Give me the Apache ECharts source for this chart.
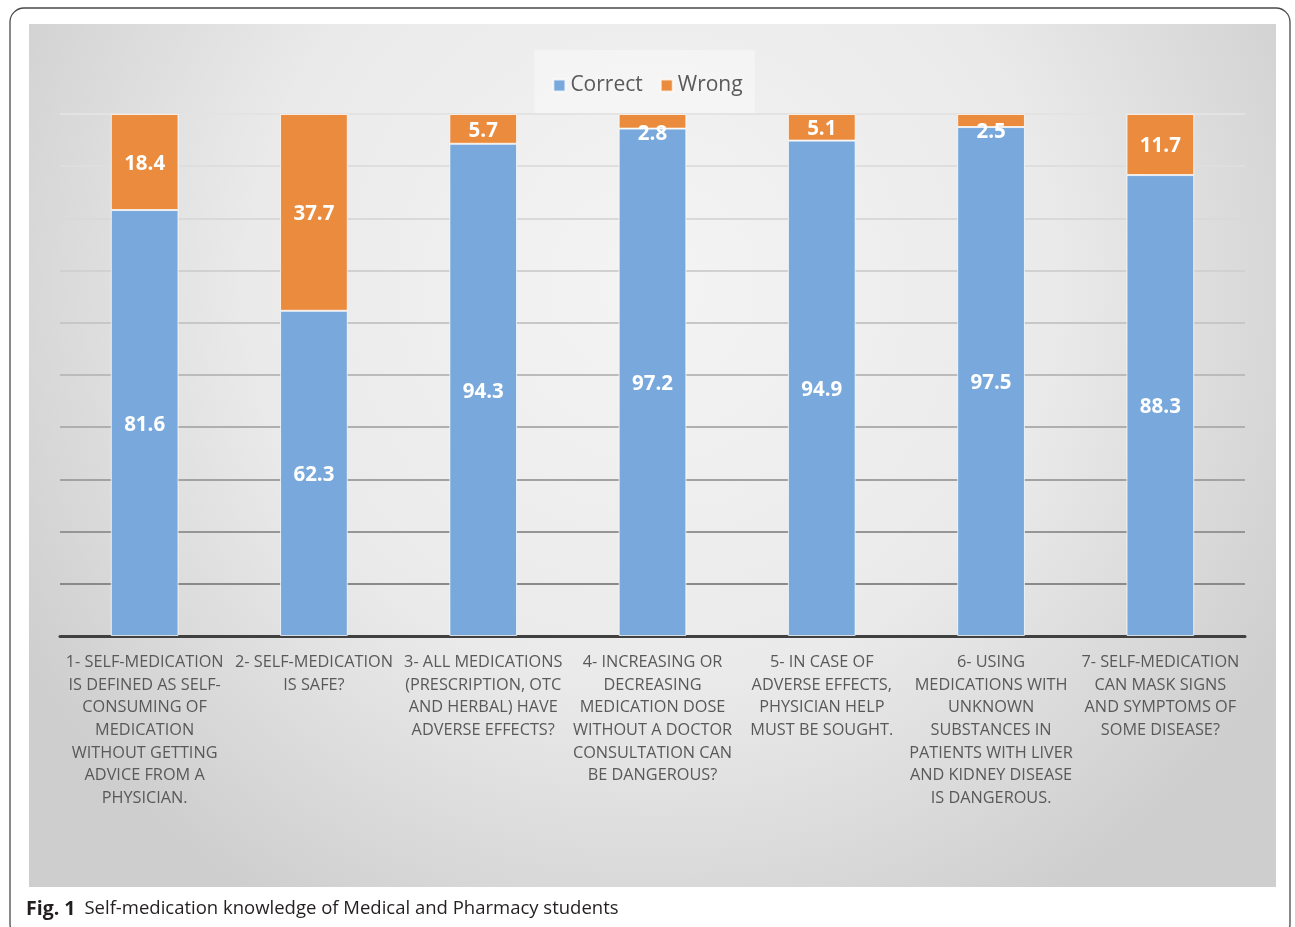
<!DOCTYPE html>
<html>
<head>
<meta charset="utf-8">
<style>
  html, body { margin: 0; padding: 0; background: #ffffff; }
  #chart { width: 1295px; height: 927px; }
</style>
<script src="https://cdn.jsdelivr.net/npm/echarts@6/dist/echarts.min.js"></script>
</head>
<body>
<div id="chart"></div>
<script>
const categories = [
  "1- SELF-MEDICATION\nIS DEFINED AS SELF-\nCONSUMING OF\nMEDICATION\nWITHOUT GETTING\nADVICE FROM A\nPHYSICIAN.",
  "2- SELF-MEDICATION\nIS SAFE?",
  "3- ALL MEDICATIONS\n(PRESCRIPTION, OTC\nAND HERBAL) HAVE\nADVERSE EFFECTS?",
  "4- INCREASING OR\nDECREASING\nMEDICATION DOSE\nWITHOUT A DOCTOR\nCONSULTATION CAN\nBE DANGEROUS?",
  "5- IN CASE OF\nADVERSE EFFECTS,\nPHYSICIAN HELP\nMUST BE SOUGHT.",
  "6- USING\nMEDICATIONS WITH\nUNKNOWN\nSUBSTANCES IN\nPATIENTS WITH LIVER\nAND KIDNEY DISEASE\nIS DANGEROUS.",
  "7- SELF-MEDICATION\nCAN MASK SIGNS\nAND SYMPTOMS OF\nSOME DISEASE?"
];
const correct = [81.6, 62.3, 94.3, 97.2, 94.9, 97.5, 88.3];
const wrong = [18.4, 37.7, 5.7, 2.8, 5.1, 2.5, 11.7];
const seriesNames = ["Correct", "Wrong"];
const captionBold = "Fig. 1";
const captionText = "Self-medication knowledge of Medical and Pharmacy students";

const chart = echarts.init(document.getElementById('chart'), null, { renderer: 'canvas' });

const labelStyle = {
  show: true,
  position: 'inside',
  offset: [0, 2],
  color: '#ffffff',
  fontFamily: 'Open Sans',
  fontWeight: 'bold',
  fontSize: 20.5
};

// very thin segments: label drawn just below the segment edge (as in the original)
const wrongData = wrong.map(v => v < 4
  ? { value: v, label: { position: 'bottom', distance: -5, offset: [0, 0] } }
  : v);

chart.setOption({
  backgroundColor: '#ffffff',
  animation: false,
  graphic: [
    {
      type: 'rect', z: -20, silent: true,
      shape: { x: 10, y: 8, width: 1280, height: 930, r: 14 },
      style: { fill: '#ffffff', stroke: '#4a4a4a', lineWidth: 1.3 }
    },
    {
      type: 'rect', z: -10, silent: true,
      shape: { x: 29, y: 24, width: 1247, height: 863 },
      style: {
        fill: {
          type: 'radial', x: 0.5, y: 0.3, r: 0.85,
          colorStops: [
            { offset: 0, color: '#f4f4f4' },
            { offset: 0.55, color: '#eaeaea' },
            { offset: 1, color: '#cecece' }
          ]
        }
      }
    },
    {
      type: 'text', z: 10, silent: true,
      left: 26, top: 899,
      style: {
        text: '{b|' + captionBold + '}{n|' + captionText + '}',
        rich: {
          b: { fontFamily: 'Open Sans', fontWeight: 'bold', fontSize: 19.5, fill: '#231f20', padding: [0, 9, 0, 0] },
          n: { fontFamily: 'Open Sans', fontSize: 18.5, fill: '#231f20' }
        }
      }
    }
  ],
  legend: {
    data: seriesNames,
    top: 50,
    left: 'center',
    padding: [25, 12, 17, 18],
    backgroundColor: 'rgba(250,250,250,0.55)',
    icon: 'rect',
    itemWidth: 12,
    itemHeight: 12,
    itemGap: 17,
    textStyle: { color: '#595959', fontFamily: 'Open Sans', fontSize: 21 }
  },
  grid: {
    left: 60, right: 50, top: 114, bottom: 291, containLabel: false
  },
  xAxis: {
    type: 'category',
    data: categories,
    axisLine: { show: true, lineStyle: { color: '#404040', width: 3 } },
    axisTick: { show: false },
    axisLabel: {
      interval: 0,
      color: '#595959',
      fontFamily: 'Open Sans',
      fontSize: 16.3,
      lineHeight: 22.7,
      margin: 15,
      align: 'center'
    }
  },
  yAxis: {
    type: 'value',
    min: 0, max: 100, interval: 10,
    axisLine: { show: false },
    axisTick: { show: false },
    axisLabel: { show: false },
    splitLine: {
      show: true,
      lineStyle: {
        width: 2,
        color: ['#888888', '#8a8a8a', '#969696', '#a2a2a2', '#afafaf', '#bbbbbb', '#c7c7c7', '#d1d1d1', '#d9d9d9', '#dedede', '#e3e3e3']
      }
    }
  },
  series: [
    {
      name: seriesNames[0],
      type: 'bar',
      stack: 'total',
      barWidth: '40%',
      data: correct,
      itemStyle: { color: '#78a8dc', borderColor: 'rgba(255,255,255,0.75)', borderWidth: 1 },
      label: labelStyle
    },
    {
      name: seriesNames[1],
      type: 'bar',
      stack: 'total',
      barWidth: '40%',
      data: wrongData,
      itemStyle: { color: '#ea8b3e', borderColor: 'rgba(255,255,255,0.75)', borderWidth: 1 },
      label: labelStyle
    }
  ]
});
</script>
</body>
</html>
